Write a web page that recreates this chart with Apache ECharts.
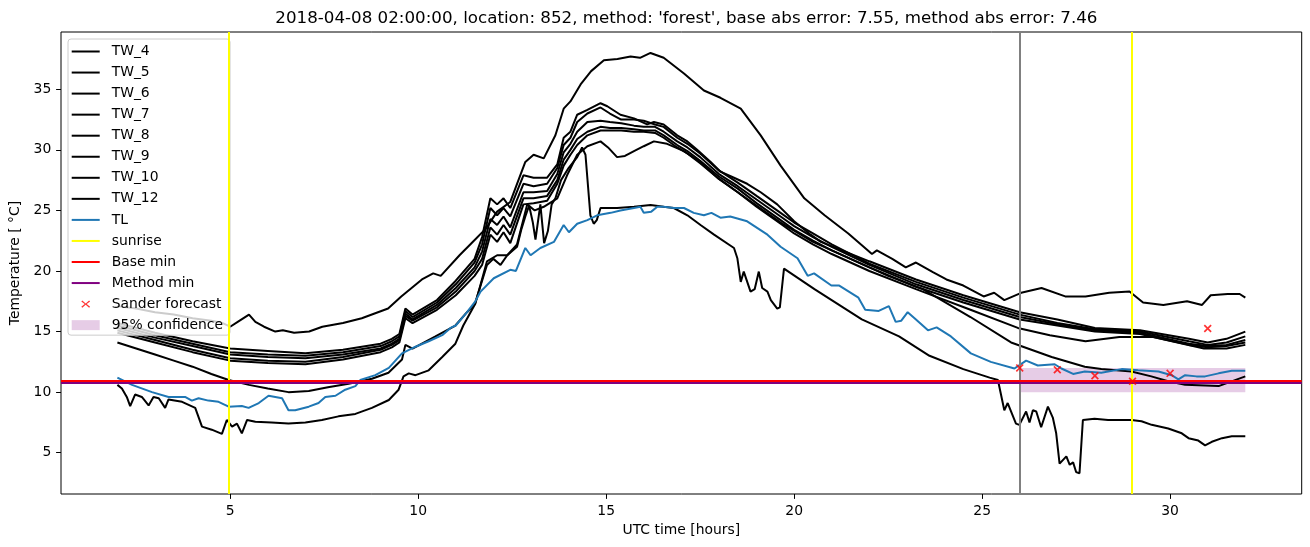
<!DOCTYPE html>
<html><head><meta charset="utf-8">
<script src="https://cdn.jsdelivr.net/npm/echarts@6/dist/echarts.min.js"></script>
<style>html,body{margin:0;padding:0;background:#fff}#c{width:1310px;height:547px}</style>
</head><body><div id="c"></div>
<script>
const titleText = "2018-04-08 02:00:00, location: 852, method: 'forest', base abs error: 7.55, method abs error: 7.46";
const xTicks = [5, 10, 15, 20, 25, 30];
const yTicks = [5, 10, 15, 20, 25, 30, 35];
const legendNames = ['TW_4','TW_5','TW_6','TW_7','TW_8','TW_9','TW_10','TW_12','TL','sunrise','Base min','Method min','Sander forecast','95% confidence'];

const tw4 = [[2,15.7],[3,14.9],[4,14.2],[5,13.6],[6,13.4],[7,13.2],[8,13.5],[9,14.0],[9.3,14.4],[9.5,14.8],[9.66,16.9],[9.85,16.4],[10.5,17.6],[11,19.2],[11.5,21.0],[11.7,22.8],[11.92,26.0],[12.1,25.5],[12.27,26.0],[12.45,25.2],[12.8,27.9],[13.07,27.7],[13.43,27.7],[13.7,28.8],[13.87,31.0],[14.05,31.5],[14.23,32.9],[14.5,33.3],[14.85,33.85],[15.03,33.6],[15.38,32.9],[15.74,32.6],[16.09,32.1],[16.27,32.3],[16.53,32.1],[16.89,31.2],[17.16,30.7],[17.42,30.0],[17.78,29.0],[18.04,28.2],[18.4,27.7],[18.75,27.2],[19.11,26.5],[19.55,25.5],[20.0,24.1],[20.44,23.0],[20.71,22.4],[22,20.8],[23.24,19.3],[24.5,18.0],[26,16.6],[27,16.0],[28,15.3],[29.2,15.1],[30.5,14.4],[31,14.1],[31.5,14.4],[32,15.0]];
const tw5 = [[2,15.5],[3,14.7],[4,14.0],[5,13.3],[6,13.1],[7,13.0],[8,13.3],[9,13.8],[9.3,14.2],[9.5,14.6],[9.66,16.7],[9.85,16.2],[10.5,17.4],[11,18.9],[11.5,20.7],[11.7,22.2],[11.92,25.2],[12.1,24.6],[12.27,25.2],[12.45,24.5],[12.8,27.2],[13.07,27.0],[13.43,27.2],[13.7,28.5],[13.87,30.4],[14.05,31.0],[14.23,32.3],[14.5,33.0],[14.85,33.5],[15.1,33.0],[15.4,32.5],[15.74,32.5],[16.0,32.4],[16.3,32.1],[16.53,31.9],[16.89,31.0],[17.16,30.5],[17.5,29.7],[18.0,28.3],[18.5,27.3],[19.0,26.2],[19.64,24.8],[20.0,24.0],[20.5,23.1],[21,22.2],[22,20.6],[23.24,19.1],[24.5,17.8],[26,16.4],[27,15.7],[28,15.2],[29.2,15.0],[30.5,14.2],[31,13.9],[31.5,14.1],[32,14.6]];
const tw6 = [[2,15.3],[3,14.5],[4,13.8],[5,13.1],[6,12.9],[7,12.8],[8,13.1],[9,13.6],[9.3,14.0],[9.5,14.4],[9.66,16.5],[9.85,16.0],[10.5,17.2],[11,18.6],[11.5,20.3],[11.7,21.6],[11.92,24.3],[12.1,23.8],[12.27,24.5],[12.45,23.6],[12.8,26.5],[13.07,26.5],[13.43,26.6],[13.7,28.0],[13.87,29.8],[14.05,30.5],[14.23,31.5],[14.5,32.3],[14.85,32.4],[15.1,32.3],[15.4,32.2],[15.74,32.0],[16.0,31.9],[16.3,31.9],[16.53,31.5],[16.89,30.7],[17.16,30.2],[17.5,29.4],[18.0,28.0],[18.5,27.0],[19.0,25.9],[19.64,24.5],[20.0,23.7],[20.5,22.8],[21,22.0],[22,20.5],[23.24,18.9],[24.5,17.6],[26,16.2],[27,15.6],[28,15.1],[29.2,14.9],[30.5,14.0],[31,13.8],[31.5,13.9],[32,14.3]];
const tw7 = [[2,15.1],[3,14.3],[4,13.5],[5,12.8],[6,12.6],[7,12.5],[8,12.9],[9,13.5],[9.3,13.9],[9.5,14.3],[9.66,16.3],[9.85,15.9],[10.5,17.0],[11,18.3],[11.5,20.0],[11.7,21.0],[11.92,23.6],[12.1,23.0],[12.27,23.8],[12.45,23.0],[12.8,26.0],[13.07,26.0],[13.43,26.2],[13.7,27.5],[13.87,29.2],[14.05,30.0],[14.23,30.9],[14.5,31.5],[14.85,31.9],[15.1,31.8],[15.4,31.8],[15.74,31.7],[16.0,31.6],[16.3,31.6],[16.53,31.2],[16.89,30.4],[17.16,29.9],[17.5,29.1],[18.0,27.8],[18.5,26.8],[19.0,25.6],[19.64,24.2],[20.0,23.4],[20.5,22.5],[21,21.7],[22,20.3],[23.24,18.7],[24.5,17.4],[26,16.0],[27,15.5],[28,15.0],[29.2,14.8],[30.5,13.9],[31,13.7],[31.5,13.8],[32,14.1]];
const tw8 = [[2,14.9],[3,14.1],[4,13.3],[5,12.6],[6,12.4],[7,12.3],[8,12.7],[9,13.3],[9.3,13.7],[9.5,14.1],[9.66,16.1],[9.85,15.7],[10.5,16.8],[11,18.0],[11.5,19.6],[11.7,20.5],[11.92,23.0],[12.1,22.4],[12.27,23.2],[12.45,22.3],[12.8,25.5],[13.07,25.6],[13.43,25.8],[13.7,27.2],[13.87,28.7],[14.05,29.6],[14.23,30.4],[14.5,31.2],[14.85,31.6],[15.1,31.6],[15.4,31.6],[15.74,31.5],[16.0,31.5],[16.3,31.4],[16.53,31.0],[16.89,30.2],[17.16,29.7],[17.5,28.9],[18.0,27.6],[18.5,26.5],[19.0,25.3],[19.64,23.9],[20.0,23.1],[20.5,22.2],[21,21.4],[22,20.0],[23.24,18.5],[24.69,16.8],[25.95,15.3],[26.8,14.7],[27.75,14.2],[28.65,14.55],[29.55,14.55],[30.9,13.6],[31.5,13.6],[32,13.9]];
const tw9 = [[2,14.1],[2.5,13.6],[3,13.1],[3.5,12.6],[4,12.1],[4.5,11.5],[4.96,11.0],[5.5,10.6],[6,10.3],[6.55,10.0],[7.09,10.1],[7.6,10.4],[8.15,10.7],[8.77,11.1],[9.21,11.6],[9.57,12.7],[9.66,13.9],[9.85,13.6],[10.46,14.6],[10.99,15.5],[11.3,16.6],[11.52,17.3],[11.83,20.8],[12.1,21.3],[12.37,21.3],[12.63,22.2],[12.9,25.5],[13.1,25.0],[13.34,25.3],[13.7,26.0],[13.96,27.9],[14.23,29.6],[14.5,30.3],[14.85,30.7],[15.05,30.2],[15.29,29.4],[15.5,29.5],[15.74,29.9],[16.0,30.3],[16.27,30.7],[16.62,30.5],[17.07,29.9],[17.5,29.0],[18,27.6],[18.5,26.5],[19,25.4],[19.64,24.0],[20.5,22.4],[21.5,21.0],[22.5,19.6],[23.42,18.5],[24.69,16.2],[25.77,14.1],[26.85,12.9],[27.73,12.1],[28.17,11.9],[28.97,11.7],[29.5,11.3],[29.95,10.9],[30.4,10.6],[31.29,10.5],[32,11.3]];
const tw10 = [[2,17.1],[2.5,16.9],[3,16.6],[3.5,16.4],[4,16.1],[4.5,15.9],[4.8,15.7],[5,15.4],[5.2,15.8],[5.5,16.4],[5.67,15.8],[5.9,15.4],[6.2,15.0],[6.4,15.1],[6.7,14.9],[7.1,15.0],[7.45,15.4],[8,15.7],[8.5,16.1],[9.2,16.9],[9.55,17.9],[10.1,19.3],[10.4,19.8],[10.6,19.6],[11.1,21.3],[11.45,22.4],[11.8,23.5],[12.1,24.9],[12.45,25.7],[12.85,29.0],[13.07,29.6],[13.34,29.3],[13.65,31.2],[13.87,33.4],[14.05,34.0],[14.32,35.4],[14.6,36.5],[14.94,37.4],[15.3,37.5],[15.65,37.7],[15.9,37.6],[16.18,38.0],[16.53,37.6],[17.07,36.3],[17.6,34.9],[18.04,34.3],[18.58,33.4],[19.11,31.2],[19.64,28.7],[20.27,26.0],[20.81,24.6],[21.44,23.1],[22.07,21.4],[22.2,21.7],[22.61,21.0],[22.97,20.3],[23.24,20.7],[23.69,19.9],[24.05,19.3],[24.5,18.8],[25.04,17.9],[25.32,18.2],[25.59,17.6],[26.04,18.2],[26.58,18.6],[27.21,17.9],[27.75,17.9],[28.38,18.2],[28.92,18.3],[29.28,17.4],[29.82,17.2],[30.45,17.5],[30.85,17.2],[31.08,18.0],[31.53,18.1],[31.85,18.1],[32,17.8]];
const tw12 = [[2,10.6],[2.12,10.3],[2.25,9.6],[2.34,8.85],[2.47,9.8],[2.65,9.6],[2.83,8.9],[2.96,9.6],[3.1,9.5],[3.27,8.7],[3.36,9.4],[3.72,9.2],[4.07,8.7],[4.25,7.15],[4.51,6.9],[4.78,6.55],[4.91,7.7],[5.05,7.15],[5.18,7.4],[5.31,6.6],[5.45,7.7],[5.67,7.55],[6.1,7.5],[6.55,7.4],[7,7.5],[7.44,7.7],[7.88,8.0],[8.33,8.2],[8.77,8.7],[9.22,9.35],[9.48,10.2],[9.61,11.3],[9.75,11.55],[9.93,11.4],[10.28,11.8],[10.64,12.9],[10.99,14.0],[11.2,15.5],[11.5,17.2],[11.83,20.5],[12.0,21.0],[12.19,20.5],[12.37,21.3],[12.63,22.0],[12.75,23.5],[12.85,24.5],[12.95,25.4],[13.05,24.0],[13.12,22.6],[13.25,25.5],[13.35,22.3],[13.45,23.3],[13.55,25.5],[13.65,26.0],[13.8,27.5],[14.0,28.5],[14.23,29.4],[14.36,30.2],[14.45,29.6],[14.58,24.6],[14.67,23.9],[14.75,24.2],[14.85,25.2],[15.29,25.2],[15.74,25.3],[16.18,25.45],[16.53,25.3],[16.8,25.2],[17.16,24.6],[17.51,23.8],[17.87,23.0],[18.4,21.9],[18.49,21.05],[18.58,19.1],[18.66,19.95],[18.84,18.3],[18.95,18.5],[19.06,19.95],[19.15,18.6],[19.29,18.3],[19.38,17.6],[19.55,16.9],[19.62,17.0],[19.73,20.2],[20.54,18.5],[21.8,16.0],[22.79,14.6],[23.6,13.0],[24.5,11.9],[25.2,11.2],[25.42,11.0],[25.59,8.5],[25.68,9.1],[25.9,7.4],[25.99,7.3],[26.17,8.4],[26.26,7.5],[26.35,8.5],[26.44,8.4],[26.57,7.1],[26.75,8.8],[26.88,7.9],[26.97,6.6],[27.06,4.1],[27.24,4.7],[27.33,4.0],[27.42,4.2],[27.5,3.4],[27.59,3.3],[27.68,7.7],[27.99,7.8],[28.35,7.7],[28.97,7.7],[29.24,7.6],[29.51,7.3],[29.95,7.0],[30.31,6.6],[30.49,6.2],[30.75,6.0],[30.93,5.6],[31.11,5.9],[31.38,6.2],[31.64,6.35],[32,6.35]];
const tl = [[2,11.2],[2.39,10.6],[2.92,10.0],[3.36,9.6],[3.8,9.6],[3.98,9.3],[4.16,9.5],[4.42,9.3],[4.69,9.2],[4.96,8.8],[5.31,8.85],[5.49,8.7],[5.76,9.1],[6.02,9.7],[6.38,9.5],[6.55,8.5],[6.73,8.5],[7.09,8.8],[7.35,9.1],[7.53,9.6],[7.8,9.7],[8.06,10.2],[8.33,10.5],[8.46,11.0],[8.86,11.4],[9.22,12.0],[9.57,13.2],[9.93,13.75],[10.28,14.2],[10.64,14.7],[10.86,15.3],[11.0,15.5],[11.3,16.6],[11.52,17.5],[11.66,18.3],[12.01,19.4],[12.45,20.1],[12.6,20.0],[12.85,21.9],[12.99,21.3],[13.25,21.9],[13.61,22.4],[13.87,23.8],[14.01,23.2],[14.23,23.9],[14.5,24.2],[14.76,24.6],[15.12,24.8],[15.38,25.0],[15.74,25.2],[15.91,25.3],[16.0,24.8],[16.2,24.9],[16.36,25.3],[16.53,25.3],[16.8,25.2],[17.07,25.2],[17.33,24.8],[17.6,24.6],[17.8,24.8],[18.04,24.4],[18.3,24.5],[18.75,24.1],[19.29,23.0],[19.64,22.0],[20.09,21.05],[20.36,19.6],[20.53,19.8],[20.99,18.8],[21.2,18.8],[21.71,17.8],[21.89,16.8],[22.25,16.7],[22.52,17.1],[22.7,15.8],[22.85,15.9],[23.02,16.6],[23.24,16.0],[23.56,15.1],[23.79,15.35],[24.17,14.6],[24.7,13.2],[25.23,12.5],[25.86,11.95],[26.17,12.6],[26.48,12.2],[26.93,12.3],[27.11,11.95],[27.42,11.5],[27.73,11.7],[28.17,11.6],[28.71,11.9],[29.15,11.8],[29.69,11.7],[30.04,11.4],[30.22,11.05],[30.4,11.4],[30.7,11.3],[30.93,11.3],[31.29,11.55],[31.64,11.76],[32,11.76]];

const sunriseHours = [4.97, 28.97];
const forecastStartHour = 26;
const baseMin = 10.95;
const methodMin = 10.8;
const sanderHours = [26, 27, 28, 29, 30, 31];
const sanderTemps = [12.0, 11.85, 11.35, 10.9, 11.55, 15.25];
const confHours = [26, 32];
const confLow = 10.0;
const confHigh = 12.0;

const FONT = 'DejaVu Sans';
const lineIcon = 'path://M0,0M0,10M0,4H28V6H0Z';
const xIcon = 'path://M0,0M28,10M10.6,1.4L14,4.3L17.4,1.4L18.4,2.4L15,5L18.4,7.6L17.4,8.6L14,5.7L10.6,8.6L9.6,7.6L13,5L9.6,2.4Z';
const patchIcon = 'path://M0,0H28V10H0Z';

const twSets = [tw4, tw5, tw6, tw7, tw8, tw9, tw10, tw12];
const series = [];
series.push({
  name: '95% confidence', type: 'line', data: [], z: 1, color: 'rgba(128,0,128,0.2)',
  markArea: { silent: true, animation: false, itemStyle: { color: 'rgba(128,0,128,0.2)' },
    data: [[{ xAxis: confHours[0], yAxis: confLow }, { xAxis: confHours[1], yAxis: confHigh }]] }
});
twSets.forEach((d, i) => {
  series.push({ name: legendNames[i], type: 'line', data: d, showSymbol: false, symbol: 'none', color: '#000',
    lineStyle: { color: '#000', width: 2 }, z: 2, silent: true, animation: false });
});
series.push({ name: 'TL', type: 'line', data: tl, showSymbol: false, symbol: 'none', color: '#1f77b4',
  lineStyle: { color: '#1f77b4', width: 2 }, z: 3, silent: true, animation: false });
function mline(name, color, items, z) {
  return { name: name, type: 'line', data: [], color: color, z: z, symbol: 'none',
    markLine: { silent: true, animation: false, symbol: 'none', label: { show: false },
      lineStyle: { color: color, width: 2, type: 'solid' }, emphasis: { disabled: true }, data: items } };
}
series.push(mline('sunrise', '#ffff00', sunriseHours.map(h => ({ xAxis: h })), 4));
series.push(mline('forecast start', '#808080', [{ xAxis: forecastStartHour }], 4));
series.push(mline('Base min', '#ff0000', [{ yAxis: baseMin }], 5));
series.push(mline('Method min', '#800080', [{ yAxis: methodMin }], 5));
series.push({ name: 'Sander forecast', type: 'scatter', z: 6, color: '#ff0000', silent: true, animation: false,
  symbol: 'path://M1.5,0L5,3.5L8.5,0L10,1.5L6.5,5L10,8.5L8.5,10L5,6.5L1.5,10L0,8.5L3.5,5L0,1.5Z', symbolSize: 8,
  itemStyle: { color: '#ff0000' }, data: sanderHours.map((h, i) => [h, sanderTemps[i]]) });

const legendData = legendNames.map((n, i) => {
  let icon = lineIcon, color = '#000';
  if (n === 'TL') color = '#1f77b4';
  if (n === 'sunrise') color = '#ffff00';
  if (n === 'Base min') color = '#ff0000';
  if (n === 'Method min') color = '#800080';
  if (n === 'Sander forecast') { icon = xIcon; color = '#ff0000'; }
  if (n === '95% confidence') { icon = patchIcon; color = 'rgba(128,0,128,0.2)'; }
  return { name: n, icon: icon, itemStyle: { color: color, borderWidth: 0 }, lineStyle: { width: 0, opacity: 0 } };
});

const chart = echarts.init(document.getElementById('c'), null, { renderer: 'canvas' });
chart.setOption({
  animation: false,
  backgroundColor: '#fff',
  title: { text: titleText, left: 681.4, top: 5, textAlign: 'center',
    textStyle: { fontFamily: FONT, fontSize: 16.7, fontWeight: 'normal', color: '#000' } },
  grid: { left: 61, top: 32, width: 1240.7, height: 462, show: true, borderColor: '#000', borderWidth: 1, backgroundColor: 'transparent' },
  legend: { orient: 'vertical', left: 68, top: 39, padding: [5.5, 7, 3, 3.7], itemWidth: 28, itemHeight: 10, itemGap: 7.05,
    backgroundColor: 'rgba(255,255,255,0.8)', borderColor: '#cccccc', borderWidth: 1, borderRadius: 3,
    selectedMode: false, inactiveColor: '#000',
    textStyle: { fontFamily: FONT, fontSize: 13.9, color: '#000', lineHeight: 14, padding: [0, 0, 0, 7] },
    data: legendData },
  xAxis: { type: 'value', min: 0.5, max: 33.5, name: 'UTC time [hours]', nameLocation: 'middle', nameGap: 29,
    nameTextStyle: { fontFamily: FONT, fontSize: 13.9, color: '#000' },
    splitLine: { show: false }, axisLine: { show: false },
    axisTick: { show: true, length: 4.9, lineStyle: { color: '#000' }, customValues: xTicks },
    axisLabel: { fontFamily: FONT, fontSize: 13.9, color: '#000', margin: 10, customValues: xTicks } },
  yAxis: { type: 'value', min: 1.59, max: 39.73, name: 'Temperature [ °C]', nameLocation: 'middle', nameGap: 34,
    nameTextStyle: { fontFamily: FONT, fontSize: 13.9, color: '#000' },
    splitLine: { show: false }, axisLine: { show: false },
    axisTick: { show: true, length: 4.9, lineStyle: { color: '#000' }, customValues: yTicks },
    axisLabel: { fontFamily: FONT, fontSize: 13.9, color: '#000', margin: 9.7, customValues: yTicks } },
  series: series
});
</script></body></html>
